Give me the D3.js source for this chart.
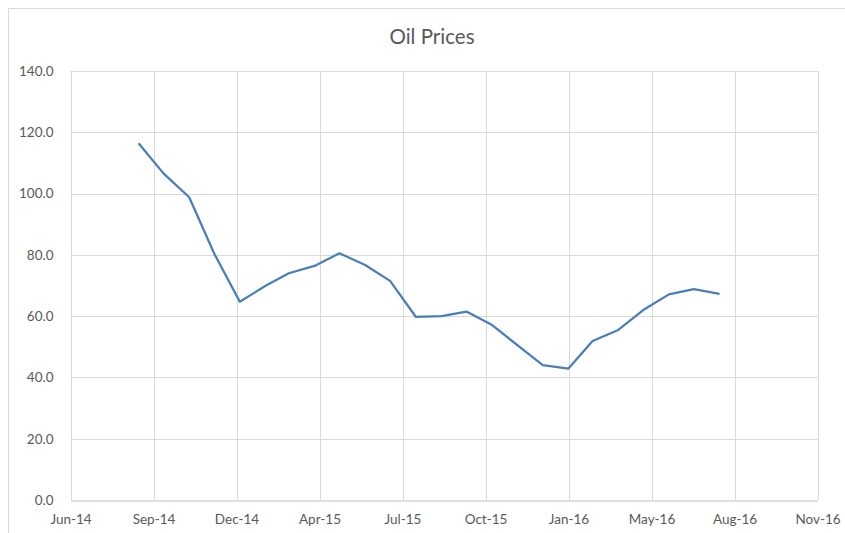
<!DOCTYPE html>
<html>
<head>
<meta charset="utf-8">
<script src="https://cdn.jsdelivr.net/npm/d3@7"></script>
<style>
  body { margin: 0; background: #fff; }
  svg { display: block; font-family: Lato, "Open Sans", sans-serif; }
</style>
</head>
<body>
<svg width="845" height="533"></svg>
<script>
// monthly averages, end of month
var months = ["2014-08-31", "2014-09-30", "2014-10-31", "2014-11-30", "2014-12-31",
  "2015-01-31", "2015-02-28", "2015-03-31", "2015-04-30", "2015-05-31", "2015-06-30",
  "2015-07-31", "2015-08-31", "2015-09-30", "2015-10-31", "2015-11-30", "2015-12-31",
  "2016-01-31", "2016-02-29", "2016-03-31", "2016-04-30", "2016-05-31", "2016-06-30", "2016-07-31"];
var prices = [116.4, 106.6, 98.8, 80.5, 64.7, 69.9, 74.0, 76.4, 80.5, 76.7, 71.5, 59.8,
  60.0, 61.5, 57.1, 50.6, 44.0, 42.9, 51.9, 55.5, 62.0, 67.1, 68.8, 67.3];
var yTicks = [0, 20, 40, 60, 80, 100, 120, 140];
var xStart = "2014-06-10", xStepDays = 100, xSteps = 9;

var parse = d3.timeParse("%Y-%m-%d");
var data = months.map(function (m, i) { return { date: parse(m), value: prices[i] }; });
var t0 = parse(xStart);
var xTicks = d3.range(xSteps + 1).map(function (i) { return d3.timeDay.offset(t0, i * xStepDays); });

var svg = d3.select("svg");
var plotL = 70.5, plotR = 817.5, plotT = 71, plotB = 500;

var x = d3.scaleTime().domain([xTicks[0], xTicks[xTicks.length - 1]]).range([plotL, plotR]);
var y = d3.scaleLinear().domain([0, 140]).range([plotB, plotT]);

// chart area border
svg.append("path")
    .attr("d", "M8.5,533V8.5H845")
    .attr("fill", "none")
    .attr("stroke", "#d9d9d9")
    .attr("stroke-width", 1);

svg.append("text")
    .attr("x", 432)
    .attr("y", 44)
    .attr("text-anchor", "middle")
    .attr("fill", "#595959")
    .attr("font-size", "20.5px")
    .text("Oil Prices");

// gridlines
svg.append("g").selectAll("line").data(yTicks.slice(1)).enter().append("line")
    .attr("x1", plotL).attr("x2", plotR)
    .attr("y1", function (d) { return Math.round(y(d)) + 0.5; })
    .attr("y2", function (d) { return Math.round(y(d)) + 0.5; })
    .attr("stroke", "#d9d9d9");

svg.append("g").selectAll("line").data(xTicks).enter().append("line")
    .attr("x1", function (d) { return Math.round(x(d)) + 0.5; })
    .attr("x2", function (d) { return Math.round(x(d)) + 0.5; })
    .attr("y1", plotT).attr("y2", plotB)
    .attr("stroke", "#d9d9d9");

// axes
var xAxis = svg.append("g")
    .attr("transform", "translate(0," + (plotB + 0.5) + ")")
    .call(d3.axisBottom(x).tickValues(xTicks).tickFormat(d3.timeFormat("%b-%y")).tickSize(0).tickPadding(14));
xAxis.select(".domain").attr("stroke", "#bfbfbf");

var yAxis = svg.append("g")
    .attr("transform", "translate(" + plotL + ",0)")
    .call(d3.axisLeft(y).tickValues(yTicks).tickFormat(d3.format(".1f")).tickSize(0).tickPadding(17));
yAxis.select(".domain").remove();

svg.selectAll(".tick text")
    .attr("fill", "#595959")
    .attr("font-size", "13.5px")
    .attr("font-family", "Lato, 'Open Sans', sans-serif");

// series
var line = d3.line()
    .x(function (d) { return x(d.date); })
    .y(function (d) { return y(d.value); });

svg.append("path")
    .datum(data)
    .attr("d", line)
    .attr("fill", "none")
    .attr("stroke", "#4a7ebb")
    .attr("stroke-width", 2.25)
    .attr("stroke-linejoin", "round");
</script>
</body>
</html>
